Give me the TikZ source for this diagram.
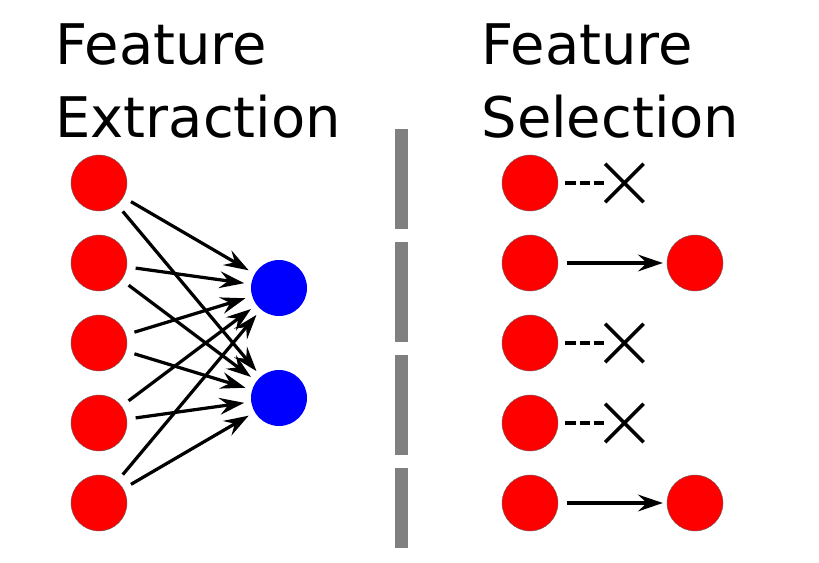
\documentclass[tikz,border=0pt]{standalone}
\usepackage{fontspec}
\setmainfont{DejaVu Sans}
\usetikzlibrary{arrows.meta,shapes.misc}
\begin{document}
\begin{tikzpicture}
        \tikzstyle{every node}=[font=\normalsize]
        \tikzstyle{feat}=[circle, fill=red, draw=black!60, line width=0.3pt, minimum size=1.4cm, inner sep=0pt]
        \tikzstyle{newfeat}=[circle, fill=blue, minimum size=1.4cm, inner sep=0pt]
        \tikzstyle{map}=[line width=2.3pt, -{Stealth[length=0.62cm, width=0.42cm, inset=0.22cm]}, shorten <=0.22cm, shorten >=0.17cm]
        \tikzstyle{drop}=[line width=2.3pt, dash pattern=on 0.26cm off 0.1cm, shorten <=0.175cm, shorten >=0.03cm]
        \tikzstyle{cross}=[cross out, draw, line width=2.5pt, minimum size=0.875cm, inner sep=0pt]
        \tikzstyle{title}=[font=\fontsize{39.8}{52.6}\selectfont, align=left, anchor=base west, inner sep=0pt]
        \useasboundingbox (0,0) rectangle (20.475,14.05);
        % titles
        \node[title] (extr) at (1.38,10.6) {Feature\\Extraction};
        \node[title] (sel) at (12.03,10.6) {Feature\\Selection};
        % feature extraction
        \node[feat] (fe1) at (2.475,9.475) {};
        \node[feat] (fe2) at (2.475,7.475) {};
        \node[feat] (fe3) at (2.475,5.475) {};
        \node[feat] (fe4) at (2.475,3.475) {};
        \node[feat] (fe5) at (2.475,1.475) {};
        \node[newfeat] (ne1) at (6.975,6.85) {};
        \node[newfeat] (ne2) at (6.975,4.1) {};
        \draw[map] (fe1) -- (ne1);
        \draw[map] (fe1) -- (ne2);
        \draw[map] (fe2) -- (ne1);
        \draw[map] (fe2) -- (ne2);
        \draw[map] (fe3) -- (ne1);
        \draw[map] (fe3) -- (ne2);
        \draw[map] (fe4) -- (ne1);
        \draw[map] (fe4) -- (ne2);
        \draw[map] (fe5) -- (ne1);
        \draw[map] (fe5) -- (ne2);
        % separator
        \draw[color=gray, line width=0.325cm, dash pattern=on 2.5cm off 0.325cm] (10.04,10.825)-- (10.04,0.35);
        % feature selection
        \node[feat] (fs1) at (13.25,9.475) {};
        \node[feat] (fs2) at (13.25,7.475) {};
        \node[feat] (fs3) at (13.25,5.475) {};
        \node[feat] (fs4) at (13.25,3.475) {};
        \node[feat] (fs5) at (13.25,1.475) {};
        \node[cross] (x1) at (15.61,9.475) {};
        \node[cross] (x3) at (15.61,5.475) {};
        \node[cross] (x4) at (15.61,3.475) {};
        \node[feat] (ks2) at (17.375,7.475) {};
        \node[feat] (ks5) at (17.375,1.475) {};
        \draw[drop] (fs1) -- (x1);
        \draw[drop] (fs3) -- (x3);
        \draw[drop] (fs4) -- (x4);
        \draw[map, shorten <=0.225cm, shorten >=0.1cm] (fs2) -- (ks2);
        \draw[map, shorten <=0.225cm, shorten >=0.1cm] (fs5) -- (ks5);
    \end{tikzpicture}
\end{document}
